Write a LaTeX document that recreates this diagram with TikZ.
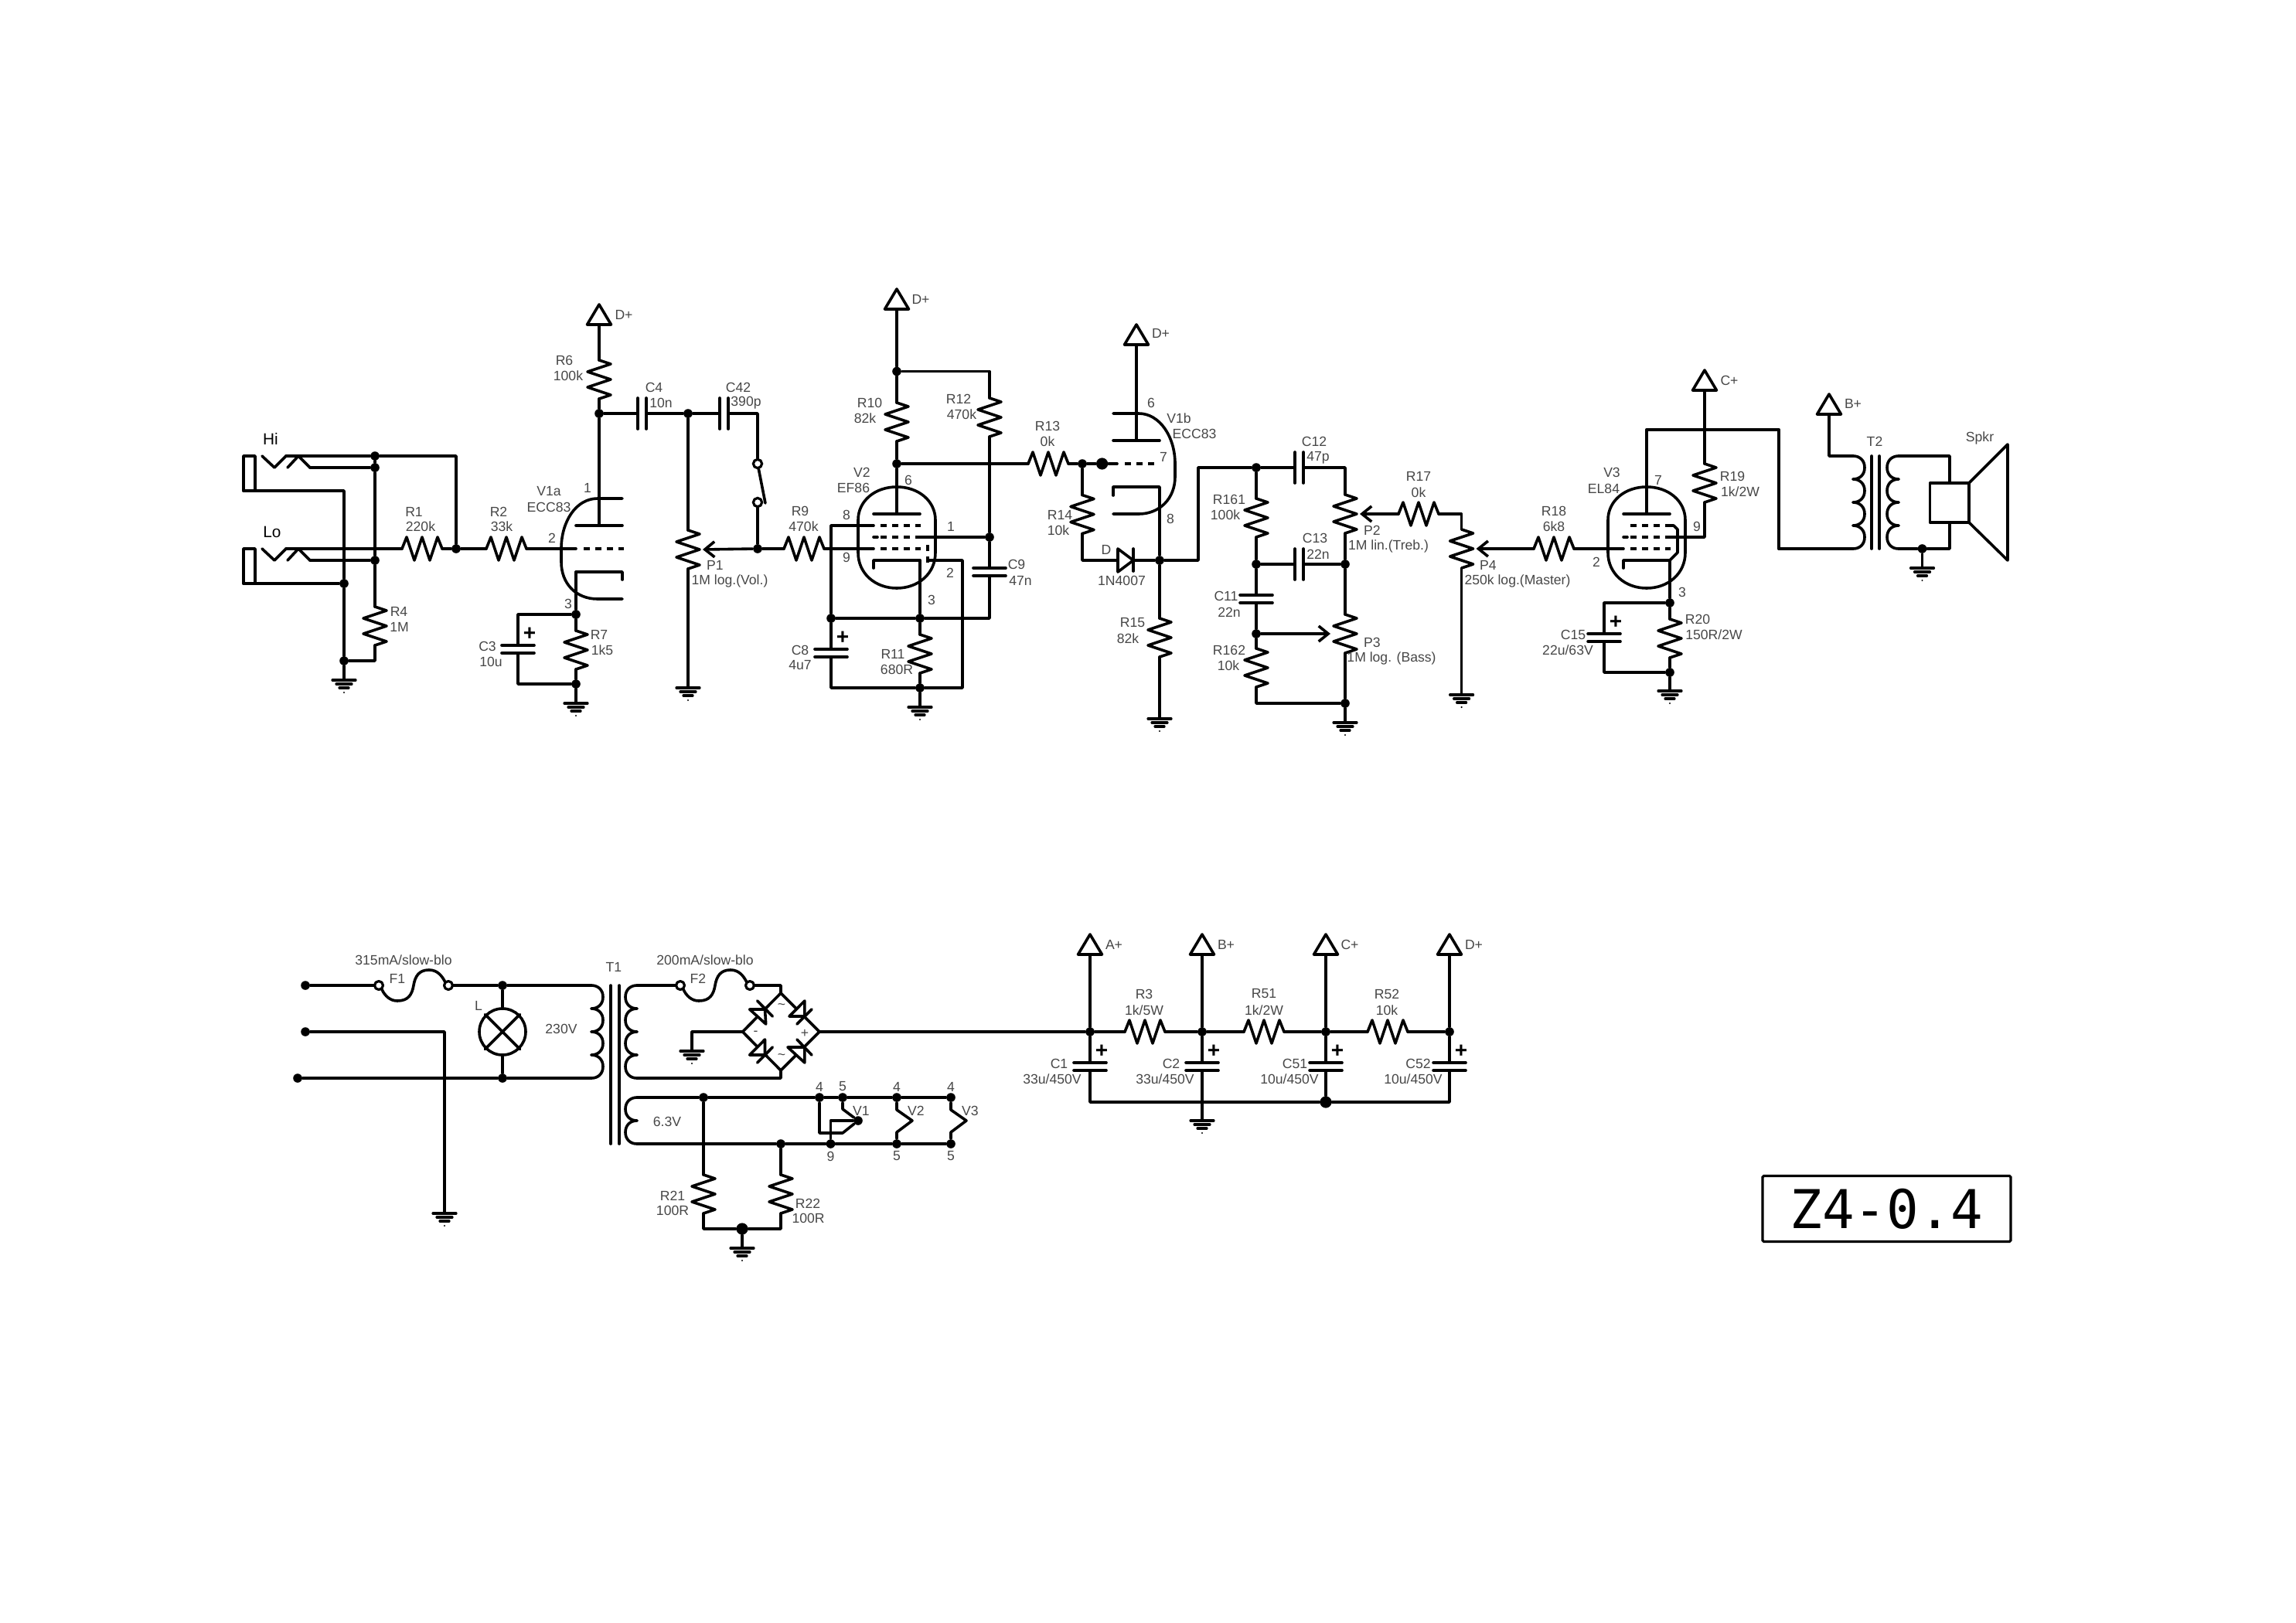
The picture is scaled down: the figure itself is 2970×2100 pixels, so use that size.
\documentclass[tikz,border=0pt]{standalone}
\usepackage{fontspec}
\setmainfont{Liberation Sans}
\newfontfamily\titlefont{DejaVu Sans Mono}
\usetikzlibrary{arrows.meta}
\tikzset{
  wire/.style={draw=black,line width=0.9pt,line join=round,line cap=round},
  thin wire/.style={draw=black,line width=0.8pt,line join=round},
  jdot/.style={circle,fill=black,inner sep=0pt,minimum size=2.9pt},
  jbig/.style={circle,fill=black,inner sep=0pt,minimum size=3.8pt},
  term/.style={circle,fill=black,inner sep=0pt,minimum size=2.9pt},
  lab/.style={inner sep=0pt,text=black!72,font=\fontsize{4.4}{5}\selectfont},
  hilo/.style={inner sep=0pt,text=black,font=\fontsize{5.2}{6}\selectfont},
  pol/.style={inner sep=0pt,text=black,font=\bfseries\fontsize{7}{7}\selectfont},
  griddash/.style={draw=black,line width=0.9pt,dash pattern=on 1.9pt off 1.85pt},
  wiper/.style={wire,-{Straight Barb[length=3.1pt,width=5pt,line width=0.9pt]}},
  rv/.pic={\draw[wire] (0,0)--(15,5)--(-15,15)--(15,25)--(-15,35)--(15,45)--(0,50);
    \coordinate (-a) at (0,0);\coordinate (-b) at (0,50);\coordinate (-w) at (19,25);\coordinate (-e) at (-19,25);},
  rh/.pic={\draw[wire] (0,0)--(6,-15)--(16,15)--(26,-15)--(36,15)--(46,-15)--(52,0);
    \coordinate (-a) at (0,0);\coordinate (-b) at (52,0);},
  ch/.pic={\draw[wire] (0,-20)--(0,20) (11,-20)--(11,20);
    \coordinate (-a) at (0,0);\coordinate (-b) at (11,0);},
  cv/.pic={\draw[wire] (-21,0)--(21,0) (-21,10)--(21,10);
    \coordinate (-a) at (0,0);\coordinate (-b) at (0,10);},
  gnd/.pic={\draw[wire,line width=0.8pt] (-15,0)--(15,0) (-10,5)--(10,5) (-6,10)--(6,10);
    \fill (0,16) circle (1.2);\coordinate (-a) at (0,0);},
  supply/.pic={\draw[wire] (-15.5,0)--(15.5,0)--(0,-26)--cycle;\coordinate (-a) at (0,0);},
  jack/.pic={\draw[wire] (15,45)--(15,0)--(0,0)--(0,45);
    \draw[wire] (24,0)--(40,15)--(55,0);\draw[wire] (57,15)--(71,0)--(86,15);
    \coordinate (-a) at (55,0);\coordinate (-b) at (86,15);\coordinate (-s) at (0,45);},
  fuse/.pic={\draw[wire,line width=0.8pt] (0,0) circle (5.5) (90,0) circle (5.5);
    \draw[wire] (3.7,4.7) .. controls (8,14) and (15,20) .. (24,20) .. controls (38,20) and (43,12) .. (45,0)
      .. controls (47,-12) and (52,-20) .. (65,-20) .. controls (76,-20) and (82,-12) .. (86,-4);
    \coordinate (-a) at (-5.5,0);\coordinate (-b) at (95.5,0);},
  pentode/.pic={
    \draw[wire] (0,-65) .. controls (-28,-65) and (-50,-47) .. (-50,-22) -- (-50,20)
      .. controls (-50,47) and (-28,66) .. (0,66) .. controls (28,66) and (50,47) .. (50,20)
      -- (50,-22) .. controls (50,-47) and (28,-65) .. (0,-65);
    \draw[wire] (-30,-30)--(30,-30);
    \draw[griddash] (-21,-15)--(31,-15) (-21,0)--(31,0) (-21,15)--(31,15);
    \draw[wire] (-30,0)--(-25,0);
    \draw[wire] (-30,40)--(-30,30)--(30,30);
    \coordinate (-p) at (0,-30);\coordinate (-g1) at (-30,-15);\coordinate (-g2) at (-30,15);
    \coordinate (-s) at (30,0);\coordinate (-k) at (30,30);}
}
\newcommand\jn[3]{\node[jdot] (#1) at (#2,#3) {};}
\newcommand\jb[3]{\node[jbig] (#1) at (#2,#3) {};}
\newcommand\lb[4]{\node[lab] (#1) at (#2,#3) {#4};}
% coil: x, y of top end, loops, side (+1 right, -1 left), name
\newcommand\coil[5]{%
  \foreach \cl in {1,...,#3}{%
    \draw[wire] (#1,{#2+(\cl-1)*30}) .. controls ({#1+#4*9},{#2+(\cl-1)*30}) and ({#1+#4*15},{#2+(\cl-1)*30+6}) .. ({#1+#4*15},{#2+(\cl-1)*30+15})
      .. controls ({#1+#4*15},{#2+(\cl-1)*30+24}) and ({#1+#4*9},{#2+\cl*30}) .. (#1,{#2+\cl*30});}%
  \coordinate (#5a) at (#1,#2);\coordinate (#5b) at (#1,{#2+#3*30});}
\begin{document}
\begin{tikzpicture}[x=0.25pt,y=-0.25pt]
\useasboundingbox (0,0) rectangle (2970,2100);
\fill[white] (0,0) rectangle (2970,2100);

%% ---- input jacks
\pic (hi) at (315,590) {jack};
\pic (lo) at (315,710) {jack};
\node[hilo] (tHi) at (350,568) {Hi};
\node[hilo] (tLo) at (352,688) {Lo};
\jn{jhA}{485}{590}\jn{jhB}{485}{605}\jn{jlB}{485}{725}\jn{jsl}{445}{755}\jn{jgi}{445}{855}\jn{jmix}{590}{710}
\pic (R1) at (520,710) {rh};
\pic (R2) at (629,710) {rh};
\pic (R4) at (485,785) {rv};
\pic (g1) at (445,880) {gnd};
\draw[wire] (hi-a)--(jhA)--(jmix |- jhA)--(jmix);
\draw[wire] (hi-b)--(jhB);
\draw[wire] (jhA)--(jhB)--(jlB)--(R4-a);
\draw[wire] (hi-s) -| (jsl);
\draw[wire] (lo-s)--(jsl);
\draw[wire] (jsl)--(jgi)--(g1-a);
\draw[wire] (lo-a)--(R1-a);
\draw[wire] (lo-b)--(jlB);
\draw[wire] (R1-b)--(jmix)--(R2-a);
\draw[wire] (R4-b) |- (jgi);
\lb{tR1}{535.5}{662}{R1}\lb{vR1}{544}{681}{220k}\lb{tR2}{645}{662}{R2}\lb{vR2}{649}{681}{33k}
\lb{tR4}{516}{791}{R4}\lb{vR4}{516.5}{811}{1M}

%% ---- V1a
\draw[wire] (805,645)--(773,645) .. controls (745,645) and (726,675) .. (726,710)--(726,727)
  .. controls (726,755) and (745,775) .. (773,775)--(805,775);
\draw[wire] (745,680)--(805,680);
\draw[griddash] (755,710)--(807,710);
\draw[wire] (805,750)--(805,740)--(745,740)--(745,780);
\coordinate (v1aP) at (775,680);\coordinate (v1aG) at (745,710);\coordinate (v1aK) at (745,740);
\draw[wire] (R2-b)--(v1aG);
\jn{jv1aK}{745}{795}\jn{jv1aP}{775}{535}\jn{jvol}{890}{535}\jn{jv1aG}{745}{885}\jn{jsw}{980}{710}
\pic (s1) at (775,420) {supply};
\pic (R6) at (775,466) {rv};
\pic (C4) at (825,535) {ch};
\pic (C42) at (931,535) {ch};
\pic (P1) at (890,686) {rv};
\pic (g3) at (890,890) {gnd};
\pic (R7) at (745,816) {rv};
\pic (C3) at (670,835) {cv};
\pic (g2) at (745,910) {gnd};
\node[circle,draw=black,line width=0.8pt,inner sep=0pt,minimum size=2.8pt] (sw1) at (980,600) {};
\node[circle,draw=black,line width=0.8pt,inner sep=0pt,minimum size=2.8pt] (sw2) at (980,650) {};
\coordinate (swt) at (990,651);
\draw[wire] (s1-a)--(R6-a);
\draw[wire] (R6-b)--(jv1aP)--(v1aP);
\draw[wire] (jv1aP)--(C4-a);
\draw[wire] (C4-b)--(jvol)--(C42-a);
\draw[wire] (C42-b) -| (sw1);
\draw[wire] (sw1)--(swt);
\draw[wire] (sw2)--(jsw);
\draw[wire] (jvol)--(P1-a);
\draw[wire] (P1-b)--(g3-a);
\draw[wiper] (jsw)--(P1-w);
\draw[wire] (v1aK)--(jv1aK)--(R7-a);
\draw[wire] (R7-b)--(jv1aG)--(g2-a);
\draw[wire] (jv1aK) -| (C3-a);
\draw[wire] (C3-b) |- (jv1aG);
\node[pol] (pC3) at (685,820) {+};
\lb{tDa}{807}{407}{D+}\lb{tR6}{730}{466}{R6}\lb{vR6}{735}{486}{100k}
\lb{tC4}{846}{501}{C4}\lb{vC4}{855}{521}{10n}\lb{tC42}{955}{501}{C42}\lb{vC42}{965}{521}{390p}
\lb{tV1a}{710}{636}{V1a}\lb{vV1a}{710}{656}{ECC83}
\lb{p1a}{760}{631}{1}\lb{p2a}{714}{696}{2}\lb{p3a}{735}{781}{3}
\lb{tP1}{925}{731}{P1}\lb{vP1}{944}{751.5}{1M log.(Vol.)}
\lb{tR7}{775}{821}{R7}\lb{vR7}{779}{841.5}{1k5}\lb{tC3}{630.5}{836}{C3}\lb{vC3}{635}{856}{10u}

%% ---- V2
\pic (V2) at (1160,695) {pentode};
\pic (R9) at (1014,710) {rh};
\pic (s2) at (1160,400) {supply};
\pic (R10) at (1160,521) {rv};
\pic (R12) at (1280,515) {rv};
\pic (C9) at (1280,735) {cv};
\pic (C8) at (1075,840) {cv};
\pic (R11) at (1190,821) {rv};
\pic (g4) at (1190,915) {gnd};
\pic (R13) at (1330,600) {rh};
\jn{jr10t}{1160}{480.5}\jn{jv2p}{1160}{600}\jn{jg2}{1280}{695}\jn{jk2}{1190}{800}\jn{jc8}{1075}{800}\jn{jgv2}{1190}{890}
\coordinate (r12t) at (1280,480.5);\coordinate (c9b) at (1280,800);
\coordinate (v2g1l) at (1075,680);\coordinate (v2sup) at (1245,725);\coordinate (v2sdn) at (1245,890);\coordinate (c8b) at (1075,890);
\draw[griddash] (1200,705)--(1200,732);
\draw[wire] (jsw)--(R9-a);
\draw[wire] (R9-b)--(V2-g2);
\draw[wire] (s2-a)--(jr10t)--(R10-a);
\draw[wire] (R10-b)--(jv2p)--(V2-p);
\draw[wire] (jr10t)--(r12t)--(R12-a);
\draw[wire] (R12-b)--(jg2)--(C9-a);
\draw[wire] (jg2)--(V2-s);
\draw[wire] (C9-b)--(c9b)--(jk2);
\draw[wire] (jk2)--(jc8);
\draw[wire] (V2-k)--(jk2)--(R11-a);
\draw[wire] (R11-b)--(jgv2)--(g4-a);
\draw[wire] (1200,725)--(v2sup)--(v2sdn)--(jgv2);
\draw[wire] (jgv2)--(c8b)--(C8-b);
\draw[wire] (C8-a)--(jc8)--(v2g1l)--(V2-g1);
\draw[wire] (jv2p)--(R13-a);
\node[pol] (pC8) at (1090,825) {+};
\lb{tDb}{1191}{387}{D+}\lb{tR10}{1125}{521}{R10}\lb{vR10}{1119}{541}{82k}\lb{tR12}{1240}{516}{R12}\lb{vR12}{1244}{536}{470k}
\lb{tV2}{1115}{611}{V2}\lb{vV2}{1104}{631}{EF86}\lb{p6v2}{1175}{621}{6}\lb{p8v2}{1095}{666}{8}\lb{p9v2}{1095}{721}{9}
\lb{p1v2}{1230}{681.5}{1}\lb{p2v2}{1229}{741}{2}\lb{p3v2}{1205}{776}{3}
\lb{tC9}{1315}{730}{C9}\lb{vC9}{1320}{751}{47n}\lb{tC8}{1035}{841}{C8}\lb{vC8}{1035}{861}{4u7}
\lb{tR11}{1155}{846}{R11}\lb{vR11}{1160}{866}{680R}\lb{tR9}{1035}{661}{R9}\lb{vR9}{1039.5}{681.5}{470k}
\lb{tR13}{1355}{551}{R13}\lb{vR13}{1355}{571}{0k}

%% ---- V1b
\draw[wire] (1440,535)--(1473,535) .. controls (1500,535) and (1520,565) .. (1520,600)--(1520,617)
  .. controls (1520,645) and (1500,665) .. (1473,665)--(1440,665);
\draw[wire] (1440,570)--(1500,570);
\draw[griddash] (1455,600)--(1493,600);
\draw[wire] (1440,641)--(1440,630)--(1500,630)--(1500,718);
\jn{jg14}{1400}{600}\jb{jg1b}{1425.6}{600}\jn{jd}{1500}{725}
\coordinate (gs) at (1445,600);\coordinate (v1bP) at (1470,570);\coordinate (r14b) at (1400,725);\coordinate (dIn) at (1446,725);\coordinate (dOut) at (1466,725);
\pic (s3) at (1470,446) {supply};
\pic (R14) at (1400,640.5) {rv};
\pic (R15) at (1500,800) {rv};
\pic (g5) at (1500,930) {gnd};
\draw[wire,fill=white] (1446,710)--(1466,725)--(1446,740)--cycle;
\draw[wire] (1466,710)--(1466,739);
\draw[wire] (R13-b)--(jg14)--(jg1b)--(gs);
\draw[wire] (s3-a)--(v1bP);
\draw[wire] (jg14)--(R14-a);
\draw[wire] (R14-b)--(r14b)--(dIn);
\draw[wire] (dOut)--(jd)--(R15-a);
\draw[wire] (R15-b)--(g5-a);
\lb{tDc}{1501.5}{431.5}{D+}\lb{p6b}{1489}{521}{6}\lb{tV1b}{1525}{541}{V1b}\lb{vV1b}{1545}{561}{ECC83}
\lb{p7b}{1505}{591}{7}\lb{p8b}{1514}{671}{8}\lb{tR14}{1371}{666}{R14}\lb{vR14}{1369}{686}{10k}
\lb{tD}{1431}{711}{D}\lb{vD}{1451}{751}{1N4007}\lb{tR15}{1465}{806}{R15}\lb{vR15}{1459}{826}{82k}

%% ---- tone stack
\jn{jt1}{1625}{605}\jn{jt2}{1625}{730}\jn{jt3}{1625}{820}\jn{jt4}{1740}{730}\jn{jt5}{1740}{910}
\coordinate (tbend) at (1550,605);\coordinate (tbendb) at (1550,725);\coordinate (p2t) at (1740,605);\coordinate (r162b) at (1625,910);
\pic (C12) at (1675,605) {ch};
\pic (C13) at (1675,730) {ch};
\pic (C11) at (1625,770) {cv};
\pic (R161) at (1625,645) {rv};
\pic (R162) at (1625,839) {rv};
\pic (P2) at (1740,640) {rv};
\pic (P3) at (1740,795) {rv};
\pic (g6) at (1740,935) {gnd};
\draw[wire] (jd)--(tbendb)--(tbend)--(jt1)--(C12-a);
\draw[wire] (C12-b)--(p2t)--(P2-a);
\draw[wire] (jt1)--(R161-a);
\draw[wire] (R161-b)--(jt2)--(C11-a);
\draw[wire] (jt2)--(C13-a);
\draw[wire] (C13-b)--(jt4);
\draw[wire] (P2-b)--(jt4)--(P3-a);
\draw[wire] (C11-b)--(jt3)--(R162-a);
\draw[wiper] (jt3)--(P3-e);
\draw[wire] (R162-b)--(r162b)--(jt5);
\draw[wire] (P3-b)--(jt5)--(g6-a);
\lb{tC12}{1700}{571}{C12}\lb{vC12}{1705}{592}{47p}\lb{tR161}{1590}{646}{R161}\lb{vR161}{1585}{666}{100k}
\lb{tC13}{1701}{696}{C13}\lb{vC13}{1705}{717}{22n}\lb{tP2}{1775}{686}{P2}\lb{vP2}{1796}{707}{1M lin.(Treb.)}
\lb{tC11}{1586}{771}{C11}\lb{vC11}{1590}{792}{22n}\lb{tR162}{1590}{841}{R162}\lb{vR162}{1589}{861}{10k}
\lb{tP3}{1775}{831}{P3}\lb{vP3}{1800}{852}{1M log. (Bass)}

%% ---- master / V3
\pic (R17) at (1809,665) {rh};
\pic (P4) at (1890.6,685) {rv};
\pic (g7) at (1890.6,899) {gnd};
\pic (R18) at (1984,710) {rh};
\coordinate (r17t) at (1890.6,665);
\draw[wiper] (R17-a)--(P2-w);
\draw[wire] (R17-b)--(r17t)--(P4-a);
\draw[wire] (P4-b)--(g7-a);
\draw[wiper] (R18-a)--(P4-w);
\pic (V3) at (2130,695) {pentode};
\pic (R19) at (2205,600) {rv};
\pic (R20) at (2160,801) {rv};
\pic (C15) at (2075,820) {cv};
\pic (g8) at (2160,894) {gnd};
\pic (s4) at (2205,505) {supply};
\pic (s5) at (2366,536) {supply};
\jn{jk3}{2160}{780}\jn{jg3}{2160}{870}
\coordinate (v3top) at (2130,555.7);\coordinate (v3topr) at (2301,555.7);\coordinate (v3out) at (2301,710);\coordinate (r19j) at (2205,555.7);\coordinate (r19g) at (2205,695);
\coordinate (t2in) at (2366,590);
\draw[wire] (2160,680)--(2165,680)--(2170,685)--(2170,715)--(2160,725);
\draw[wire] (R18-b)--(V3-g2);
\draw[wire] (V3-p)--(v3top)--(v3topr)--(v3out);
\draw[wire] (s4-a)--(R19-a);
\draw[wire] (R19-b)--(r19g)--(V3-s);
\draw[wire] (V3-k)--(jk3)--(R20-a);
\draw[wire] (R20-b)--(jg3)--(g8-a);
\draw[wire] (jk3) -| (C15-a);
\draw[wire] (C15-b) |- (jg3);
\node[pol] (pC15) at (2090,805) {+};
\lb{tR17}{1835}{616}{R17}\lb{vR17}{1835}{637}{0k}\lb{tP4}{1925}{731}{P4}\lb{vP4}{1963}{752}{250k log.(Master)}
\lb{tR18}{2010}{661}{R18}\lb{vR18}{2010}{681}{6k8}\lb{tV3}{2085}{611}{V3}\lb{vV3}{2074.5}{632}{EL84}
\lb{p2v3}{2065}{727}{2}\lb{p7v3}{2145}{621}{7}\lb{p9v3}{2195}{681}{9}\lb{p3v3}{2176}{766}{3}
\lb{tCp}{2237}{492}{C+}\lb{tR19}{2241}{616}{R19}\lb{vR19}{2251}{636}{1k/2W}
\lb{tR20}{2196}{801}{R20}\lb{vR20}{2217}{821}{150R/2W}\lb{tC15}{2035}{821}{C15}\lb{vC15}{2028}{841}{22u/63V}
\lb{tBp}{2397}{522}{B+}

%% ---- output transformer and speaker
\coil{2397}{590}{4}{1}{tp}
\coil{2456}{590}{4}{-1}{ts}
\draw[wire] (2421,590)--(2421,710) (2431,590)--(2431,710);
\jn{jspk}{2486.5}{710}
\pic (g9) at (2486.5,735) {gnd};
\coordinate (sT) at (2522,625);\coordinate (sB) at (2522,676);\coordinate (sTo) at (2522,590);\coordinate (sBo) at (2522,710);
\draw[wire] (s5-a)--(t2in)--(tpa);
\draw[wire] (v3out)--(tpb);
\draw[wire] (tsa)--(sTo)--(sT);
\draw[wire] (sB)--(sBo)--(jspk)--(tsb);
\draw[wire] (jspk)--(g9-a);
\draw[wire] (2547,625)--(2496.5,625)--(2496.5,676)--(2547,676)--cycle;
\draw[wire] (2547,625)--(2597,575)--(2597,725)--(2547,676);
\lb{tT2}{2425}{571}{T2}\lb{tSpk}{2561}{567}{Spkr}

%% ---- mains
\node[term] (m1) at (395,1275) {};
\node[term] (m2) at (395,1335) {};
\node[term] (m3) at (385,1395) {};
\pic (F1) at (490,1275) {fuse};
\jn{jL1}{650}{1275}\jn{jL2}{650}{1395}
\node[circle,draw=black,line width=0.9pt,inner sep=0pt,minimum size=15pt] (L) at (650,1335) {};
\draw[wire] (L.45)--(L.225) (L.135)--(L.315);
\coil{765}{1275}{4}{1}{t1p}
\coil{824}{1275}{4}{-1}{t1s}
\coil{824}{1420}{2}{-1}{t1h}
\draw[wire] (790,1275)--(790,1480) (801,1275)--(801,1480);
\pic (g10) at (575,1570) {gnd};
\coordinate (m2b) at (575,1335);
\draw[wire] (m1)--(F1-a);
\draw[wire] (F1-b)--(jL1)--(t1pa);
\draw[wire] (jL1)--(L)--(jL2);
\draw[wire] (m3)--(jL2)--(t1pb);
\draw[wire] (m2)--(m2b)--(g10-a);
\lb{tF1v}{522}{1242}{315mA/slow-blo}\lb{tF1}{514}{1266}{F1}\lb{tL}{619}{1301}{L}\lb{t230}{726}{1331}{230V}\lb{tT1}{794}{1251}{T1}

%% ---- rectifier
\pic (F2) at (880,1275) {fuse};
\coordinate (bT) at (1010,1285);\coordinate (bL) at (960.6,1335);\coordinate (bR) at (1060,1335);\coordinate (bB) at (1010,1385);
\coordinate (bTo) at (1010,1275);\coordinate (bBo) at (1010,1395);
\draw[wire] (bT)--(bL)--(bB)--(bR)--cycle;
\draw[wire,fill=white] (969.7,1306)--(990.7,1325)--(989.5,1306)--cycle;
\draw[wire] (979.6,1295)--(999.4,1315);
\draw[wire,fill=white] (1021,1315)--(1040.9,1295)--(1040.9,1315)--cycle;
\draw[wire] (1031,1325)--(1050,1306);
\draw[wire,fill=white] (969.7,1365)--(989.5,1345)--(989.5,1365)--cycle;
\draw[wire] (979.6,1375)--(999.4,1355);
\draw[wire,fill=white] (1019,1355)--(1040.9,1375)--(1040.9,1355)--cycle;
\draw[wire] (1031,1345)--(1050,1365);
\pic (g11) at (895,1360) {gnd};
\coordinate (gbr) at (895,1335);
\draw[wire] (t1sa)--(F2-a);
\draw[wire] (F2-b)--(bTo)--(bT);
\draw[wire] (bB)--(bBo)--(t1sb);
\draw[wire] (bL)--(gbr)--(g11-a);
\lb{tF2v}{912}{1242}{200mA/slow-blo}\lb{tF2}{903}{1266}{F2}
\lb{dA}{1011}{1302}{\textasciitilde}\lb{dB}{1011}{1367}{\textasciitilde}\lb{dC}{977.6}{1337}{-}\lb{dD}{1041}{1337}{+}

%% ---- heaters
\jn{jh1}{910}{1420}\jn{jh2}{1060}{1420}\jn{jh3}{1090}{1420}\jn{jh4}{1160}{1420}\jn{jh5}{1230}{1420}
\jn{jl1}{1010}{1480}\jn{jl2}{1074.5}{1480}\jn{jl3}{1160}{1480}\jn{jl4}{1230}{1480}
\jn{jhc}{1110}{1450}\jb{jhg}{960}{1590}
\pic (R21) at (910,1520) {rv};
\pic (R22) at (1010,1520) {rv};
\pic (g12) at (960,1615) {gnd};
\coordinate (h1a) at (1060,1466);\coordinate (h1b) at (1090,1466);\coordinate (h1c) at (1090,1435);
\coordinate (h1d) at (1074.5,1450);
\draw[wire] (t1ha)--(jh1)--(jh2)--(jh3)--(jh4)--(jh5);
\draw[wire] (t1hb)--(jl1)--(jl2)--(jl3)--(jl4);
\draw[wire] (jh1)--(R21-a);
\draw[wire] (jl1)--(R22-a);
\draw[wire] (R21-b) |- (jhg);
\draw[wire] (R22-b) |- (jhg);
\draw[wire] (jhg)--(g12-a);
\draw[wire] (jh2)--(h1a)--(h1b)--(jhc)--(h1c)--(jh3);
\draw[wire] (jl2)--(h1d)--(jhc);
\draw[wire] (jh4)--(1160,1436)--(1180,1450)--(1160,1465)--(jl3);
\draw[wire] (jh5)--(1230,1436)--(1250,1450)--(1230,1465)--(jl4);
\lb{h4a}{1060}{1406}{4}\lb{h5a}{1090}{1406}{5}\lb{h4b}{1160}{1406}{4}\lb{h4c}{1230}{1406}{4}
\lb{hV1}{1114}{1437}{V1}\lb{hV2}{1185}{1437}{V2}\lb{hV3}{1255}{1437}{V3}
\lb{h9}{1074.5}{1496}{9}\lb{h5b}{1160}{1496}{5}\lb{h5c}{1230}{1496}{5}
\lb{t63}{863}{1451}{6.3V}
\lb{tR21}{870}{1547}{R21}\lb{vR21}{870}{1566}{100R}\lb{tR22}{1045}{1557}{R22}\lb{vR22}{1045.6}{1576}{100R}

%% ---- supply rail
\jn{ja}{1410}{1335}\jn{jbb}{1555}{1335}\jn{jc}{1715}{1335}\jn{jdd}{1875}{1335}\jb{jgn}{1715}{1426}
\coordinate (ga) at (1410,1426);\coordinate (gb) at (1555,1426);\coordinate (gd) at (1875,1426);
\pic (sA) at (1410,1235) {supply};\pic (sB2) at (1555,1235) {supply};\pic (sC) at (1715,1235) {supply};\pic (sD) at (1875,1235) {supply};
\pic (R3) at (1455,1335) {rh};\pic (R51) at (1609,1335) {rh};\pic (R52) at (1769,1335) {rh};
\pic (C1) at (1410,1375) {cv};\pic (C2) at (1555,1375) {cv};\pic (C51) at (1715,1375) {cv};\pic (C52) at (1875,1375) {cv};
\pic (g13) at (1555,1450) {gnd};
\draw[wire] (bR)--(ja)--(R3-a);
\draw[wire] (R3-b)--(jbb)--(R51-a);
\draw[wire] (R51-b)--(jc)--(R52-a);
\draw[wire] (R52-b)--(jdd);
\draw[wire] (sA-a)--(ja)--(C1-a);
\draw[wire] (sB2-a)--(jbb)--(C2-a);
\draw[wire] (sC-a)--(jc)--(C51-a);
\draw[wire] (sD-a)--(jdd)--(C52-a);
\draw[wire] (C1-b)--(ga)--(gb)--(jgn)--(gd)--(C52-b);
\draw[wire] (C2-b)--(gb)--(g13-a);
\draw[wire] (C51-b)--(jgn);
\node[pol] (pC1) at (1425,1360) {+};\node[pol] (pC2) at (1570,1360) {+};\node[pol] (pC51) at (1730,1360) {+};\node[pol] (pC52) at (1890,1360) {+};
\lb{tAp}{1441}{1222}{A+}\lb{tBq}{1586}{1222}{B+}\lb{tCq}{1746}{1222}{C+}\lb{tDq}{1906.5}{1222}{D+}
\lb{tR3}{1480}{1286}{R3}\lb{vR3}{1480}{1307}{1k/5W}\lb{tR51}{1635}{1286}{R51}\lb{vR51}{1635}{1307}{1k/2W}\lb{tR52}{1794}{1286}{R52}\lb{vR52}{1794}{1307}{10k}
\lb{tC1}{1370}{1376}{C1}\lb{vC1}{1361}{1396}{33u/450V}\lb{tC2}{1515}{1376}{C2}\lb{vC2}{1507}{1396}{33u/450V}
\lb{tC51}{1675}{1376}{C51}\lb{vC51}{1668}{1396}{10u/450V}\lb{tC52}{1834.5}{1376}{C52}\lb{vC52}{1828}{1396}{10u/450V}

%% ---- title
\node[draw=black,line width=0.8pt,rounded corners=0.4pt,minimum width=80.25pt,minimum height=21.25pt,inner sep=0pt,
  font=\titlefont\fontsize{17.3}{20}\selectfont] (title) at (2440.5,1564) {Z4-0.4};
\end{tikzpicture}
\end{document}
